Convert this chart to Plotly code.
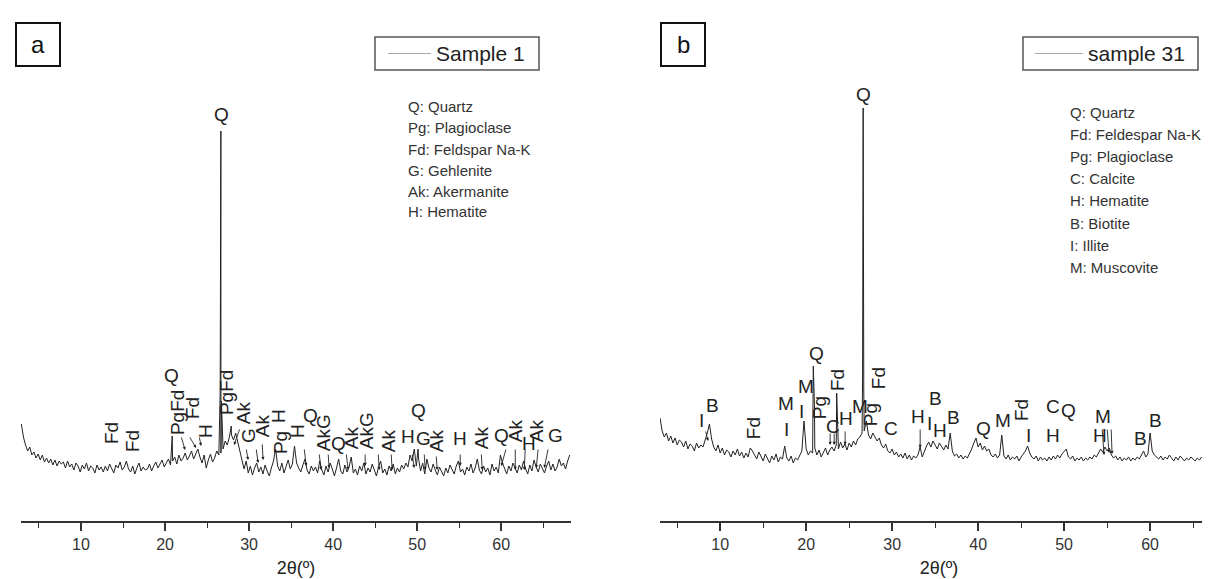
import plotly.graph_objects as go

# ---------------- data ----------------
STEP = 0.25
start_a = 2.9
intensity_a = [
    97, 84, 76, 70, 74, 66, 69, 63, 67, 61, 66, 59, 63, 58, 62, 56, 61, 55, 60, 57,
    59, 53, 60, 54, 57, 51, 58, 55, 49, 56, 52, 58, 50, 55, 53, 48, 56, 51, 54, 49,
    55, 50, 57, 52, 48, 56, 53, 59, 51, 54, 60, 52, 49, 55, 47, 53, 58, 50, 54, 51,
    52, 57, 50, 55, 59, 53, 57, 61, 54, 58, 62, 56, 60, 64, 57, 66, 60, 63, 68, 61,
    65, 70, 62, 67, 72, 64, 58, 66, 53, 61, 67, 59, 63, 70, 66, 68, 72, 80, 76, 84,
    86, 81, 88, 79, 70, 58, 52, 60, 48, 55, 46, 53, 58, 49, 54, 47, 56, 50, 45, 53,
    60, 72, 55, 50, 58, 48, 54, 61, 52, 57, 75, 58, 53, 49, 56, 62, 51, 47, 55, 50,
    54, 48, 60, 51, 46, 55, 49, 58, 52, 45, 53, 62, 50, 47, 56, 49, 54, 64, 48, 52,
    46, 55, 50, 58, 47, 53, 49, 57, 51, 45, 54, 60, 48, 52, 46, 55, 50, 57, 47, 53,
    49, 56, 52, 58, 54, 66, 60, 72, 55, 63, 50, 58, 47, 62, 53, 49, 57, 51, 46, 54,
    50, 45, 53, 48, 56, 51, 47, 55, 60, 49, 52, 46, 54, 50, 57, 48, 53, 62, 51, 47,
    55, 49, 53, 46, 57, 50, 54, 48, 66, 58, 52, 47, 55, 50, 58, 53, 48, 56, 51, 60,
    52, 47, 56, 50, 61, 54, 49, 57, 52, 48, 55, 60, 51, 57, 50, 54, 62, 55, 58, 52, 60, 66,
]
peaks_a_theta = [20.85, 26.56, 26.64, 26.71, 27.88, 50.1]
peaks_a_int = [85, 130, 390, 120, 95, 72]

start_b = 3.0
intensity_b = [
    103, 90, 84, 88, 80, 85, 78, 83, 76, 81, 79, 74, 80, 72, 77, 75, 70, 78, 73, 76,
    74, 80, 88, 97, 82, 74, 70, 76, 68, 73, 66, 71, 69, 64, 70, 66, 72, 65, 69, 63,
    68, 64, 73, 70, 66, 62, 69, 64, 60, 67, 63, 58, 65, 61, 67, 59, 64, 62, 75, 63,
    60, 65, 58, 63, 61, 66, 70, 100, 72, 66, 70, 68, 73, 66, 71, 64, 69, 73, 66, 71,
    74, 70, 76, 72, 79, 73, 77, 71, 78, 74, 80, 76, 82, 84, 88, 90, 100, 86, 82, 88,
    84, 80, 83, 76, 73, 77, 70, 68, 72, 66, 69, 64, 67, 63, 68, 62, 66, 61, 65, 63,
    66, 74, 64, 70, 75, 79, 74, 80, 76, 72, 78, 74, 71, 76, 72, 88, 70, 65, 67, 63,
    66, 62, 65, 63, 67, 72, 78, 83, 74, 78, 71, 75, 70, 72, 66, 64, 67, 63, 66, 86,
    65, 62, 66, 61, 64, 62, 65, 60, 64, 67, 70, 75, 68, 64, 62, 65, 60, 64, 61, 63,
    60, 64, 61, 65, 62, 66, 63, 67, 70, 72, 64, 62, 65, 60, 63, 61, 64, 60, 63, 61,
    64, 62, 66, 64, 68, 72, 69, 74, 70, 73, 66, 63, 65, 61, 64, 60, 63, 61, 64, 60,
    63, 61, 64, 62, 66, 70, 64, 67, 88, 70, 66, 64, 62, 65, 61, 64, 62, 66, 63, 60,
    64, 61, 65, 62, 60, 63, 61, 64, 62, 60, 63, 61, 64, 60, 62, 65, 61, 63, 66, 76,
]
peaks_b_theta = [20.83, 20.97, 23.55, 26.56, 26.63, 26.70]
peaks_b_int = [155, 113, 128, 140, 413, 130]

tick_vals = [10, 20, 30, 40, 50, 60]
minor_vals = [5, 15, 25, 35, 45, 55, 65]

series_a_name = "Sample 1"
series_b_name = "sample 31"
phases_a = ["Q: Quartz", "Pg: Plagioclase", "Fd: Feldspar Na-K", "G: Gehlenite",
            "Ak: Akermanite", "H: Hematite"]
phases_b = ["Q: Quartz", "Fd: Feldespar Na-K", "Pg: Plagioclase", "C: Calcite",
            "H: Hematite", "B: Biotite", "I: Illite", "M: Muscovite"]

# peak labels: (text, 2theta, intensity, rotated)
labels_a = [
    ("Fd", 13.57, 88, True), ("Fd", 16.07, 80, True), ("Q", 20.71, 146, False),
    ("PgFd", 21.43, 108, True), ("Fd", 23.21, 113, True), ("H", 24.76, 90, True),
    ("Q", 26.67, 406, False), ("PgFd", 27.26, 128, True), ("Ak", 29.29, 108, True),
    ("G", 29.88, 85, True), ("Ak", 31.55, 95, True), ("H", 33.45, 105, True),
    ("Pg", 33.69, 78, True), ("H", 35.71, 90, True), ("Q", 37.26, 106, False),
    ("AkG", 38.81, 88, True), ("Q", 40.6, 78, False), ("Ak", 42.14, 83, True),
    ("AkG", 43.93, 90, True), ("Ak", 46.55, 80, True), ("H", 48.93, 85, False),
    ("Q", 50.12, 111, False), ("G", 50.7, 83, False), ("Ak", 52.26, 80, True),
    ("H", 55.12, 83, False), ("Ak", 57.62, 83, True), ("Q", 60.0, 86, False),
    ("Ak", 61.67, 90, True), ("H", 63.33, 78, False), ("Ak", 64.17, 90, True),
    ("G", 66.43, 86, False),
]
labels_b = [
    ("I", 7.79, 101, False), ("B", 9.07, 116, False), ("Fd", 13.84, 93, True),
    ("M", 17.67, 118, False), ("I", 17.67, 92, False), ("M", 20.0, 135, False),
    ("I", 19.42, 110, False), ("Q", 21.16, 168, False), ("Pg", 21.51, 113, True),
    ("Fd", 23.6, 141, True), ("C", 23.14, 95, False), ("H", 24.65, 103, False),
    ("M", 26.28, 115, False), ("Pg", 27.44, 106, True), ("Fd", 28.37, 143, True),
    ("C", 29.88, 93, False), ("Q", 26.63, 426, False), ("H", 33.02, 105, False),
    ("I", 34.35, 98, False), ("B", 35.0, 123, False), ("H", 35.55, 91, False),
    ("B", 37.15, 104, False), ("Q", 40.58, 93, False), ("M", 42.91, 101, False),
    ("Fd", 45.0, 111, True), ("I", 45.81, 86, False), ("C", 48.72, 115, False),
    ("Q", 50.47, 111, False), ("H", 48.72, 86, False), ("M", 54.53, 105, False),
    ("H", 54.19, 86, False), ("B", 58.84, 83, False), ("B", 60.58, 101, False),
]
# arrows: (tail 2theta, tail I, head 2theta, head I)
arrows_a = [
    (21.9, 85, 22.38, 71), (22.86, 85, 23.69, 73), (24.05, 85, 24.29, 75),
    (28.93, 93, 28.21, 76), (29.64, 73, 29.88, 61), (30.83, 73, 31.07, 58),
    (31.55, 78, 31.67, 61), (36.55, 73, 36.79, 55), (38.33, 68, 38.57, 51),
    (39.4, 68, 39.52, 53), (41.55, 68, 41.79, 51), (43.81, 68, 43.81, 55),
    (45.36, 68, 45.48, 51), (46.9, 68, 47.02, 51), (49.4, 68, 49.64, 53),
    (50.83, 68, 50.95, 51), (52.26, 66, 52.38, 51), (55.12, 68, 55.12, 55),
    (57.62, 68, 57.74, 51), (60.6, 73, 60.0, 55), (61.67, 73, 61.67, 51),
    (62.86, 73, 62.74, 51), (64.4, 73, 64.17, 53), (65.6, 73, 65.12, 53),
]
arrows_b = [
    (8.26, 91, 8.6, 80), (22.79, 89, 22.79, 76), (23.26, 89, 23.26, 76),
    (24.53, 91, 24.53, 76), (33.26, 93, 33.26, 73), (54.42, 93, 54.65, 66),
    (55.0, 93, 55.23, 68), (55.47, 93, 55.58, 67),
]

# ---------------- helpers ----------------
W, H = 1210, 579
FONT = "Arial, Liberation Sans, sans-serif"


def px(x):
    return x / W


def py(y):
    return 1 - y / H


def merged(start, vals, pt, pi):
    xs = [round(start + STEP * i, 3) for i in range(len(vals))]
    pts = sorted(list(zip(xs, vals)) + list(zip(pt, pi)))
    return [p[0] for p in pts], [p[1] for p in pts]


xa, ya = merged(start_a, intensity_a, peaks_a_theta, peaks_a_int)
xb, yb = merged(start_b, intensity_b, peaks_b_theta, peaks_b_int)

fig = go.Figure()
fig.add_trace(go.Scatter(x=xa, y=ya, mode="lines", name=series_a_name,
                         line=dict(color="#222222", width=1.0),
                         xaxis="x", yaxis="y", showlegend=False))
fig.add_trace(go.Scatter(x=xb, y=yb, mode="lines", name=series_b_name,
                         line=dict(color="#222222", width=1.0),
                         xaxis="x2", yaxis="y2", showlegend=False))

ydom = [py(513), py(73)]
xaxis_common = dict(
    showline=True, linecolor="#333", linewidth=1.8, showgrid=False, zeroline=False,
    ticks="outside", ticklen=8, tickwidth=1.5, tickcolor="#333",
    tickvals=tick_vals, ticktext=[str(v) for v in tick_vals],
    minor=dict(ticks="outside", tickvals=minor_vals, ticklen=5, tickwidth=1.3,
               tickcolor="#333"),
    tickfont=dict(family=FONT, size=16, color="#333"),
    title=dict(text="2θ(º)", font=dict(family=FONT, size=18, color="#222"), standoff=9),
)
yaxis_common = dict(visible=False, range=[0, 440], domain=ydom, fixedrange=True)

fig.update_layout(
    width=W, height=H,
    margin=dict(l=0, r=0, t=0, b=0),
    paper_bgcolor="white", plot_bgcolor="white",
    showlegend=False,
    xaxis=dict(domain=[px(13), px(563)], range=[2.86, 68.3], anchor="y", **xaxis_common),
    yaxis=dict(anchor="x", **yaxis_common),
    xaxis2=dict(domain=[px(652), 1.0], range=[3.0, 67.9], anchor="y2", **xaxis_common),
    yaxis2=dict(anchor="x2", **yaxis_common),
)

annotations = []
shapes = []


def add_peak_labels(labels, xr, yr):
    for txt, t, i, rot in labels:
        annotations.append(dict(
            x=t, y=i, xref=xr, yref=yr, text=txt, showarrow=False,
            textangle=-90 if rot else 0, xanchor="center", yanchor="middle",
            font=dict(family=FONT, size=19, color="#222")))


def add_arrows(arrows, xr, yr):
    for tx, ty, hx, hy in arrows:
        annotations.append(dict(
            x=hx, y=hy, ax=tx, ay=ty, xref=xr, yref=yr, axref=xr, ayref=yr,
            text="", showarrow=True, arrowhead=2, arrowsize=0.7, arrowwidth=0.9,
            arrowcolor="#222", standoff=0, startstandoff=0))


add_peak_labels(labels_a, "x", "y")
add_peak_labels(labels_b, "x2", "y2")
add_arrows(arrows_a, "x", "y")
add_arrows(arrows_b, "x2", "y2")

# panel letters
for letter, x0, x1 in (("a", 8, 52), ("b", 653, 697)):
    shapes.append(dict(type="rect", xref="paper", yref="paper",
                       x0=px(x0), x1=px(x1), y0=py(58), y1=py(15),
                       line=dict(color="#111", width=2)))
    annotations.append(dict(x=px((x0 + x1) / 2), y=py(36), xref="paper", yref="paper",
                            text=letter, showarrow=False, xanchor="center", yanchor="middle",
                            font=dict(family=FONT, size=24, color="#111")))

# series legends
for name, bx0, bx1, lx0, lx1 in ((series_a_name, 367, 531, 380, 423),
                                  (series_b_name, 1015, 1190, 1027, 1075)):
    shapes.append(dict(type="rect", xref="paper", yref="paper",
                       x0=px(bx0), x1=px(bx1), y0=py(62), y1=py(29),
                       line=dict(color="#555", width=1.5)))
    shapes.append(dict(type="line", xref="paper", yref="paper",
                       x0=px(lx0), x1=px(lx1), y0=py(45.5), y1=py(45.5),
                       line=dict(color="#aaa", width=1.2)))
    annotations.append(dict(x=px(lx1 + 3), y=py(45.5), xref="paper", yref="paper",
                            text=name, showarrow=False, xanchor="left", yanchor="middle",
                            font=dict(family=FONT, size=21, color="#222")))

# phase keys
for items, x0, y0, dy in ((phases_a, 398, 99, 21), (phases_b, 1060, 105, 22)):
    for k, txt in enumerate(items):
        annotations.append(dict(x=px(x0), y=py(y0 + dy * k), xref="paper", yref="paper",
                                text=txt, showarrow=False, xanchor="left", yanchor="middle",
                                font=dict(family=FONT, size=15, color="#333")))

fig.update_layout(annotations=annotations, shapes=shapes)
fig.write_html("out.html")
